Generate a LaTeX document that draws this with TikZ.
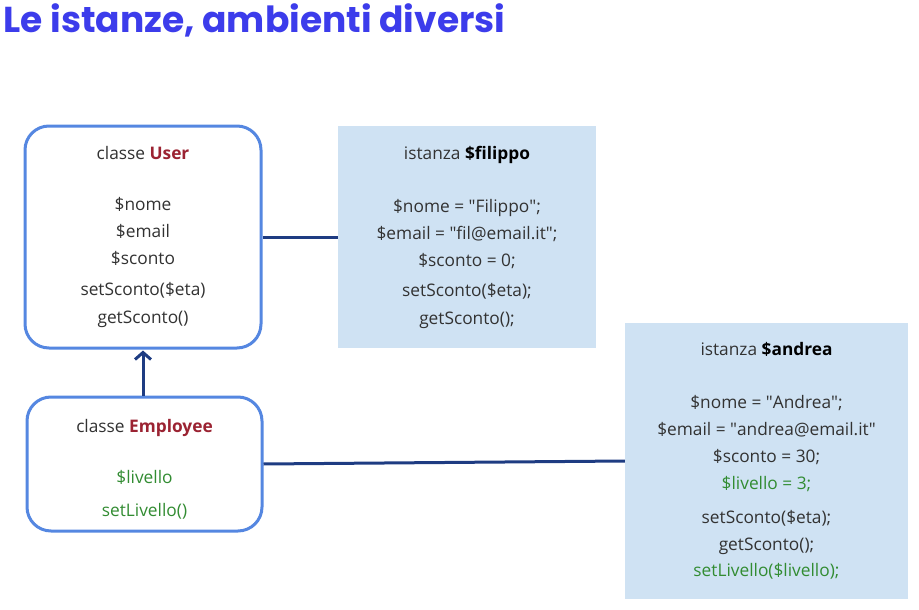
\documentclass[tikz,border=0pt]{standalone}
\usepackage{fontspec}
\setmainfont{Open Sans}
\newfontfamily\titlefont{Poppins}
\usetikzlibrary{arrows.meta}

\definecolor{boxblue}{RGB}{85,135,225}
\definecolor{linkblue}{RGB}{30,60,130}
\definecolor{instfill}{RGB}{207,226,243}
\definecolor{classred}{RGB}{155,35,50}
\definecolor{newgreen}{RGB}{50,140,50}
\definecolor{titleblue}{RGB}{60,60,235}
\definecolor{txt}{RGB}{50,50,50}

\newcommand\qt{\textquotedbl}

\begin{document}
\begin{tikzpicture}[x=1pt,y=-1pt,
    classbox/.style={draw=boxblue, line width=3pt, rounded corners=24pt, fill=white, align=center, inner sep=0pt},
    instbox/.style={fill=instfill, align=center, inner sep=0pt},
    link/.style={draw=linkblue, line width=3pt}]

  \useasboundingbox (0,0) rectangle (919,610);

  \node[anchor=base west, text=titleblue, font=\titlefont\bfseries\fontsize{36}{36}\selectfont] (title) at (0,33) {Le istanze, ambienti diversi};

  \begin{scope}[every node/.style={text=txt, font=\fontsize{17.3}{27}\selectfont}]
    \node[classbox, minimum width=236pt, minimum height=222pt] (user) at (143,237)
      {classe \textcolor{classred}{\textbf{User}}\\[24pt]
       \$nome\\ \$email\\ \$sconto\\[4pt] setSconto(\$eta)\\[1pt] getSconto()};
    \node[classbox, minimum width=235pt, minimum height=134pt] (emp) at (144.5,464)
      {\rule{0pt}{23pt}classe \textcolor{classred}{\textbf{Employee}}\\[24pt]
       \textcolor{newgreen}{\$livello}\\[6pt] \textcolor{newgreen}{setLivello()}};
    \node[instbox, minimum width=258pt, minimum height=222pt] (filippo) at (467,237)
      {istanza \textbf{\textcolor{black}{\$filippo}}\\[26pt]
       \$nome = \qt Filippo\qt;\\ \$email = \qt fil@email.it\qt;\\ \$sconto = 0;\\[3pt]
       setSconto(\$eta);\\[1pt] getSconto();};
    \node[instbox, minimum width=283pt, minimum height=276pt] (andrea) at (766.5,461)
      {istanza \textbf{\textcolor{black}{\$andrea}}\\[26pt]
       \$nome = \qt Andrea\qt;\\ \$email = \qt andrea@email.it\qt\\ \$sconto = 30;\\
       \textcolor{newgreen}{\$livello = 3;}\\[7pt]
       setSconto(\$eta);\\ getSconto();\\[-1pt] \textcolor{newgreen}{setLivello(\$livello);}};
  \end{scope}

  \draw[link] (user) -- (filippo);
  \draw[link] (emp.east) -- (andrea.west);
  \draw[link, shorten >=1pt, -{Straight Barb[length=7pt, width=16pt]}] (emp.north -| user.south) -- (user.south);

\end{tikzpicture}
\end{document}
